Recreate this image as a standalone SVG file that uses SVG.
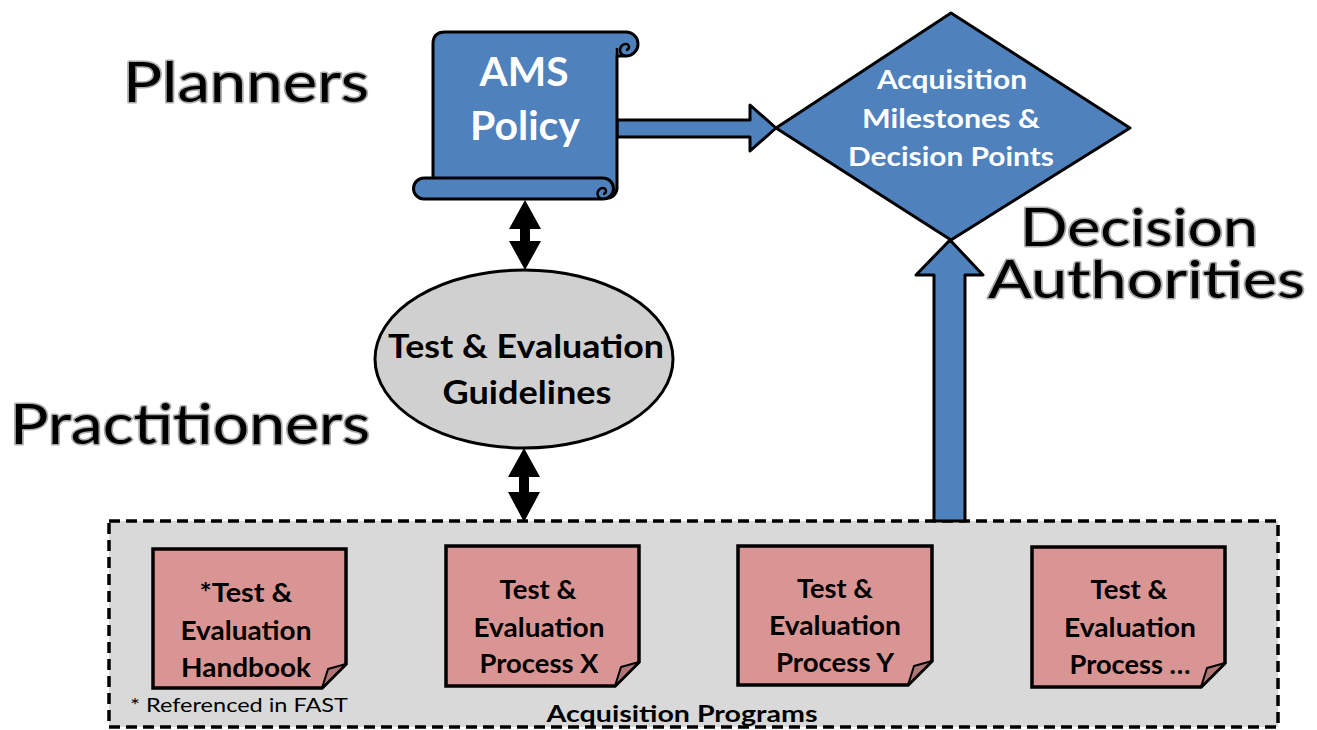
<svg xmlns="http://www.w3.org/2000/svg" width="1317" height="730" viewBox="0 0 1317 730">
<style>
.big{font-family:Lato,"Liberation Sans",sans-serif;font-size:56px;font-weight:normal;fill:#000;stroke:#aaa;stroke-width:3;paint-order:stroke;stroke-linejoin:round}
.wt{font-family:Lato,"Liberation Sans",sans-serif;font-weight:bold;fill:#fff;text-anchor:middle}
.bt{font-family:Lato,"Liberation Sans",sans-serif;font-weight:bold;fill:#000;text-anchor:middle}
.blue{fill:#4f81bd;stroke:#000;stroke-width:3;stroke-linejoin:round}
.note{fill:#d99594;stroke:#000;stroke-width:3.5;stroke-linejoin:miter}
.fold{fill:#ae7776;stroke:#000;stroke-width:2;stroke-linejoin:round}
.nt{font-family:Lato,"Liberation Sans",sans-serif;font-weight:bold;font-size:26px;fill:#000;text-anchor:middle}
</style>
<rect width="1317" height="730" fill="#fff"/>

<g id="labels">
<text class="big" x="123" y="102" textLength="246" lengthAdjust="spacingAndGlyphs">Planners</text>
<text class="big" x="1020" y="246" font-size="52" style="font-size:53px" textLength="238" lengthAdjust="spacingAndGlyphs">Decision</text>
<text class="big" x="988" y="298" style="font-size:53px" textLength="317" lengthAdjust="spacingAndGlyphs">Authorities</text>
<text class="big" x="10" y="444" textLength="360" lengthAdjust="spacingAndGlyphs">Practitioners</text>
</g>

<g id="acquisition-programs">
<rect x="109" y="521" width="1169" height="206" fill="#d9d9d9" stroke="#000" stroke-width="3.5" stroke-dasharray="11 6"/>
<text x="130" y="712" font-family="Lato,'Liberation Sans',sans-serif" font-size="20" fill="#000" textLength="218" lengthAdjust="spacingAndGlyphs">* Referenced in FAST</text>
<text class="bt" x="682" y="722" font-size="22" textLength="271" lengthAdjust="spacingAndGlyphs">Acquisition Programs</text>
</g>

<g id="connectors">
<path class="blue" d="M617,120 H750 V105 L776,128 L750,151 V137 H617 Z"/>
<path class="blue" d="M934,521 V275 H916 L950,240 L983,275 H965 V521 Z"/>
<path fill="#000" d="M525,200 L541,229 L530,229 L530,241 L541,241 L525,270 L509,241 L520,241 L520,229 L509,229 Z"/>
<path fill="#000" d="M524,448 L540,477 L529,477 L529,492 L540,492 L524,522 L508,492 L519,492 L519,477 L508,477 Z"/>
</g>

<g id="ams-policy">
<path class="blue" d="M433,182 V44 Q433,32 445,32 H626 A12,12 0 0 1 626,56 H617 V188 A10,10 0 0 1 607,198 L433,198 Z"/>
<path fill="none" stroke="#000" stroke-width="2.5" d="M626,56 A6,6 0 0 1 626,44 A3,3 0 0 1 626,50 M617,56 V48"/>
<path class="blue" d="M424,178 H603 A10.5,10.5 0 0 1 603,199 H424 A10.5,10.5 0 0 1 424,178 Z"/>
<path fill="none" stroke="#000" stroke-width="2.5" d="M603,199 A5.5,5.5 0 0 1 603,188 A3,3 0 0 1 603,194"/>
<text class="wt" x="524" y="86" font-size="40" textLength="89" lengthAdjust="spacingAndGlyphs">AMS</text>
<text class="wt" x="525" y="140" font-size="40" textLength="110" lengthAdjust="spacingAndGlyphs">Policy</text>
</g>

<g id="milestones">
<path class="blue" d="M951,13 L1130,128 L951,240 L776,128 Z"/>
<text class="wt" x="952" y="89" font-size="26" textLength="150" lengthAdjust="spacingAndGlyphs">Acquisition</text>
<text class="wt" x="951" y="128" font-size="26" textLength="178" lengthAdjust="spacingAndGlyphs">Milestones &amp;</text>
<text class="wt" x="951" y="166" font-size="26" textLength="206" lengthAdjust="spacingAndGlyphs">Decision Points</text>
</g>

<g id="guidelines">
<ellipse cx="524" cy="359" rx="149" ry="89" fill="#d0d0d0" stroke="#000" stroke-width="3"/>
<text class="bt" x="526" y="358" font-size="32" textLength="276" lengthAdjust="spacingAndGlyphs">Test &amp; Evaluation</text>
<text class="bt" x="527" y="404" font-size="32" textLength="169" lengthAdjust="spacingAndGlyphs">Guidelines</text>
</g>

<g id="handbook">
<path class="note" d="M153,549 H346 V664 L322,688 H153 Z"/>
<path class="fold" d="M346,664 L322,688 L328,669 Z"/>
<text class="nt" x="246" y="602" textLength="93" lengthAdjust="spacingAndGlyphs">*Test &amp;</text>
<text class="nt" x="246" y="640" textLength="131" lengthAdjust="spacingAndGlyphs">Evaluation</text>
<text class="nt" x="246" y="677" textLength="130" lengthAdjust="spacingAndGlyphs">Handbook</text>
</g>

<g id="process-x">
<path class="note" d="M446,546 H639 V662 L615,686 H446 Z"/>
<path class="fold" d="M639,662 L615,686 L621,667 Z"/>
<text class="nt" x="538" y="599" textLength="77" lengthAdjust="spacingAndGlyphs">Test &amp;</text>
<text class="nt" x="539" y="637" textLength="131" lengthAdjust="spacingAndGlyphs">Evaluation</text>
<text class="nt" x="539" y="673" textLength="119" lengthAdjust="spacingAndGlyphs">Process X</text>
</g>

<g id="process-y">
<path class="note" d="M738,546 H932 V661 L908,685 H738 Z"/>
<path class="fold" d="M932,661 L908,685 L914,666 Z"/>
<text class="nt" x="835" y="598" textLength="76" lengthAdjust="spacingAndGlyphs">Test &amp;</text>
<text class="nt" x="835" y="635" textLength="132" lengthAdjust="spacingAndGlyphs">Evaluation</text>
<text class="nt" x="835" y="672" textLength="118" lengthAdjust="spacingAndGlyphs">Process Y</text>
</g>

<g id="process-more">
<path class="note" d="M1032,547 H1225 V663 L1201,687 H1032 Z"/>
<path class="fold" d="M1225,663 L1201,687 L1207,668 Z"/>
<text class="nt" x="1129" y="599" textLength="77" lengthAdjust="spacingAndGlyphs">Test &amp;</text>
<text class="nt" x="1130" y="637" textLength="132" lengthAdjust="spacingAndGlyphs">Evaluation</text>
<text class="nt" x="1130" y="674" textLength="121" lengthAdjust="spacingAndGlyphs">Process …</text>
</g>
</svg>
